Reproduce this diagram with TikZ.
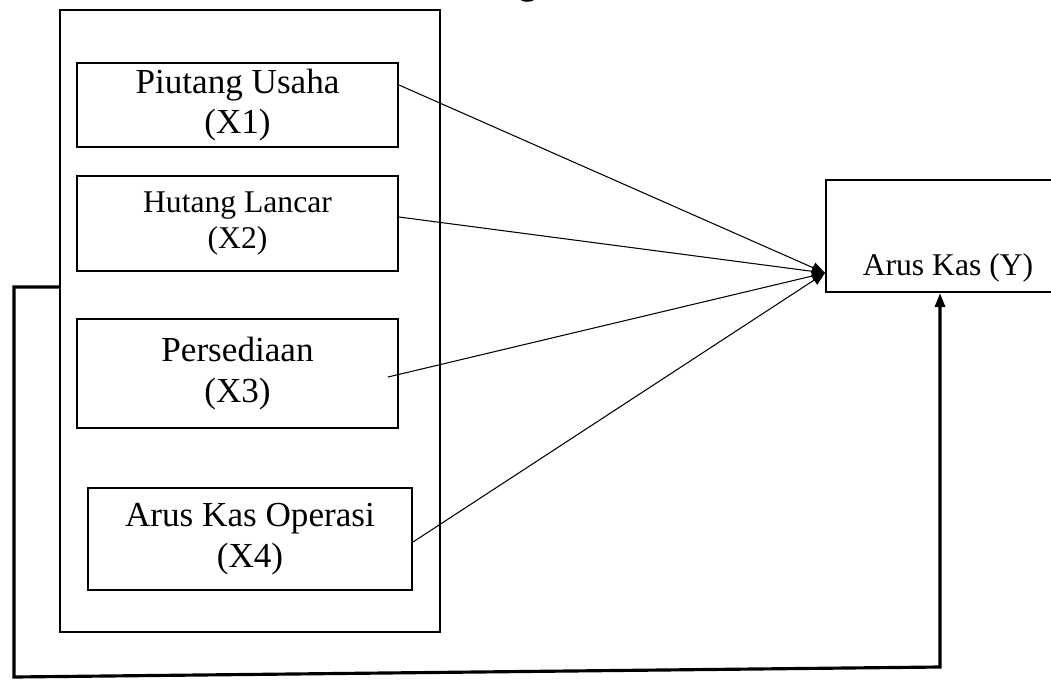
\documentclass[tikz,border=0pt]{standalone}
\usepackage{fontspec}
\setmainfont{Liberation Serif}
\usetikzlibrary{arrows.meta}

\tikzstyle{kotak} = [draw,line width=1.2pt,inner sep=0pt,align=center,font=\fontsize{20}{23}\selectfont]
\tikzstyle{kecil} = [font=\fontsize{18}{21}\selectfont]
\tikzstyle{panah} = [line width=0.6pt,-{Triangle[length=0.26cm,width=0.22cm]}]
\tikzstyle{balik} = [line width=1.8pt,-{Triangle[length=0.28cm,width=0.2cm]}]

\begin{document}
\begin{tikzpicture}[x=0.02cm,y=-0.02cm]
		\useasboundingbox (0,0) rectangle (1051,680);
		\node[font=\bfseries\fontsize{20}{23}\selectfont,anchor=base east] (judul) at (580,-6) {Kerangka};

		\node[kotak,minimum width=7.6cm,minimum height=12.44cm] (luar) at (250,321) {};
		\node[kotak,minimum width=6.42cm,minimum height=1.68cm] (x1) at (237.5,105) {Piutang Usaha\\(X1)};
		\node[kotak,kecil,minimum width=6.42cm,minimum height=1.9cm] (x2) at (237.5,223.5) {Hutang Lancar\\(X2)};
		\node[kotak,minimum width=6.42cm,minimum height=2.18cm] (x3) at (237.5,373.5) {Persediaan\\(X3)};
		\node[kotak,minimum width=6.48cm,minimum height=2.04cm] (x4) at (250,539) {Arus Kas Operasi\\(X4)};
		\node[kotak,minimum width=6cm,minimum height=2.24cm] (y) at (976,236) {};
		\node[kecil] (ytext) at (948,268) {Arus Kas (Y)};

		\coordinate (a1) at ([yshift=0.4cm]x1.east);
		\coordinate (a2) at ([yshift=0.13cm]x2.east);
		\coordinate (a3) at ([xshift=-0.22cm,yshift=-0.07cm]x3.east);
		\coordinate (a4) at ([yshift=-0.06cm]x4.east);
		\coordinate (tip) at ([yshift=-0.74cm]y.west);
		\draw[panah] (a1) -- (tip);
		\draw[panah] (a2) -- (tip);
		\draw[panah] (a3) -- (tip);
		\draw[panah] (a4) -- (tip);

		\coordinate (b1) at ([yshift=0.68cm]luar.west);
		\coordinate (b2) at ([xshift=-0.72cm]y.south);
		\draw[balik] (b1) -| (14,677) -- (940,667) -- (b2);
		\end{tikzpicture}
\end{document}
